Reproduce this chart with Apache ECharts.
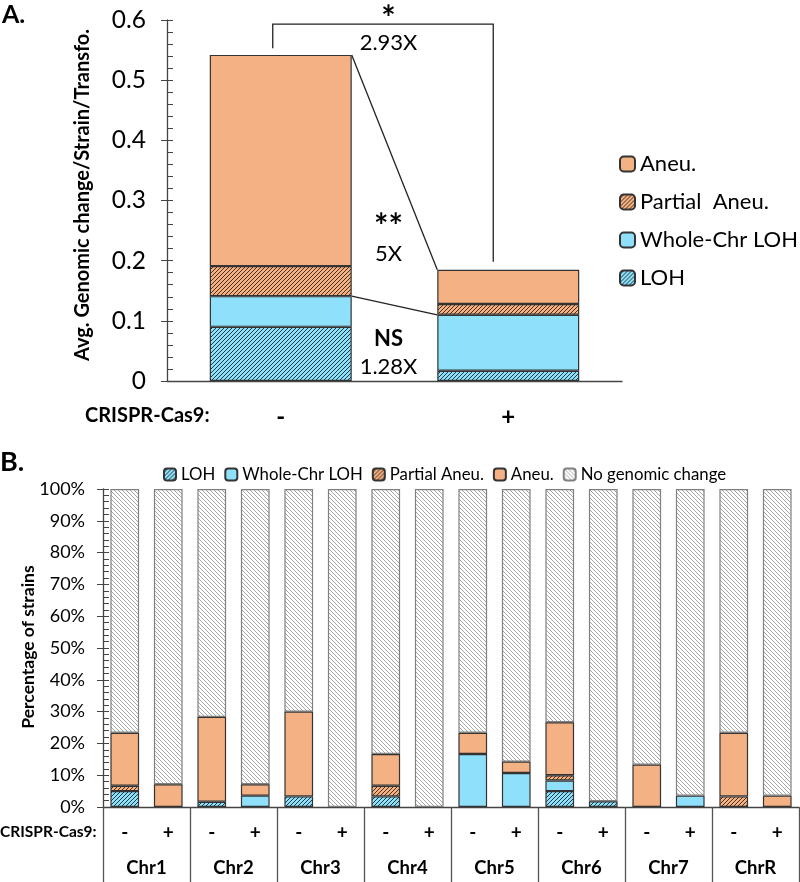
<!DOCTYPE html>
<html><head><meta charset="utf-8">
<script src="https://cdn.jsdelivr.net/npm/echarts@6/dist/echarts.min.js"></script>
<style>html,body{margin:0;padding:0;background:#fff}#c{width:800px;height:882px}</style>
</head><body><div id="c"></div>
<script>
// ---------- Panel A data ----------
const categoriesA = ['-', '+'];
const lohA      = [0.090, 0.017];
const wholeChrA = [0.051, 0.093];
const partialA  = [0.050, 0.018];
const aneuA     = [0.351, 0.057];
const ticksA    = [0, 0.1, 0.2, 0.3, 0.4, 0.5, 0.6];

// ---------- Panel B data ----------
const chrNames = ['Chr1', 'Chr2', 'Chr3', 'Chr4', 'Chr5', 'Chr6', 'Chr7', 'ChrR'];
const signs = ['-', '+'];
const lohB      = [5.00, 0, 1.67, 0, 3.33, 0, 3.33, 0, 0, 0, 5.00, 1.79, 0, 0, 0, 0];
const wholeChrB = [0, 0, 0, 3.57, 0, 0, 0, 0, 16.67, 10.71, 3.33, 0, 0, 3.57, 0, 0];
const partialB  = [1.67, 0, 0, 0, 0, 0, 3.33, 0, 0, 0, 1.67, 0, 0, 0, 3.33, 0];
const aneuB     = [16.67, 7.14, 26.67, 3.57, 26.67, 0, 10.00, 0, 6.67, 3.57, 16.67, 0, 13.33, 0, 20.00, 3.57];
const noChangeB = [76.66, 92.86, 71.66, 92.86, 70.00, 100, 83.34, 100, 76.66, 85.72, 73.33, 98.21, 86.67, 96.43, 76.67, 96.43];
const ticksB    = [0, 10, 20, 30, 40, 50, 60, 70, 80, 90, 100];

const categoriesB = [];
chrNames.forEach(c => signs.forEach(s => categoriesB.push(c + s)));

const FONT = 'Lato';
const ORANGE = '#F4B183';
const CYAN = '#8FE1FB';
const EDGE = '#333333';
const AX = '#444444';

function hatch(bg, fg, dir, size, lw) {
  const c = document.createElement('canvas');
  c.width = c.height = size;
  const g = c.getContext('2d');
  g.fillStyle = bg; g.fillRect(0, 0, size, size);
  g.strokeStyle = fg; g.lineWidth = lw;
  g.beginPath();
  for (const k of [-size, 0, size]) {
    if (dir === '/') { g.moveTo(k, size); g.lineTo(k + size, 0); }
    else { g.moveTo(k, 0); g.lineTo(k + size, size); }
  }
  g.stroke();
  return { image: c, repeat: 'repeat' };
}
const lohFill = hatch(CYAN, '#203a44', '/', 4, 1);
const partialFill = hatch(ORANGE, '#4a3018', '/', 4, 1);
const noneFill = hatch('#ffffff', '#a6a6a6', '\\', 4, 1);

const nz = arr => arr.map(v => v === 0 ? '-' : v);

function barSeries(name, data, fill, xi, yi, width, border, z) {
  return {
    name, type: 'bar', stack: 's' + xi, data: nz(data),
    xAxisIndex: xi, yAxisIndex: yi, barWidth: width, z: z || 2,
    itemStyle: { color: fill, borderColor: border || EDGE, borderWidth: 1.2 },
    emphasis: { disabled: true }
  };
}

const chart = echarts.init(document.getElementById('c'), null, { renderer: 'canvas' });

function yAxisPair(grid, min, max, interval, fmt, fontSize, margin) {
  return [
    { gridIndex: grid, type: 'value', position: 'left', min, max, interval,
      axisLine: { show: true, lineStyle: { color: AX, width: 1.3 } },
      axisTick: { show: true, inside: true, length: 6, lineStyle: { color: AX } },
      minorTick: { show: true, splitNumber: 5, length: 6, lineStyle: { color: AX } },
      splitLine: { show: false },
      axisLabel: { fontSize, color: '#000', margin, fontFamily: FONT, formatter: fmt } },
    { gridIndex: grid, type: 'value', position: 'left', min, max, interval,
      axisLine: { show: false },
      axisTick: { show: true, inside: false, length: 6, lineStyle: { color: AX } },
      splitLine: { show: false }, axisLabel: { show: false } }
  ];
}

const yA = yAxisPair(0, ticksA[0], ticksA[ticksA.length - 1], ticksA[1] - ticksA[0], v => String(+v.toFixed(1)), 24.5, 21);
const yB = yAxisPair(1, ticksB[0], ticksB[ticksB.length - 1], ticksB[1] - ticksB[0], v => v + '%', 18, 18);

const option = {
  animation: false,
  textStyle: { fontFamily: FONT, color: '#000' },
  grid: [
    { left: 167, top: 20, width: 455, height: 361 },
    { left: 103, top: 489, width: 696, height: 318 }
  ],
  legend: [
    { orient: 'vertical', left: 614, top: 148, itemWidth: 15, itemHeight: 15, itemGap: 16,
      data: ['Aneu.', 'Partial  Aneu.', 'Whole-Chr LOH', 'LOH'],
      textStyle: { fontSize: 22, color: '#000', fontFamily: FONT }, selectedMode: false },
    { orient: 'horizontal', left: 158, top: 461, itemWidth: 12, itemHeight: 12, itemGap: 9,
      data: ['LOH', 'Whole-Chr LOH', 'Partial Aneu.', 'Aneu.', 'No genomic change'],
      textStyle: { fontSize: 16.8, color: '#000', fontFamily: FONT }, selectedMode: false }
  ],
  xAxis: [
    { gridIndex: 0, type: 'category', data: categoriesA,
      axisLine: { show: true, lineStyle: { color: AX, width: 1.3 } },
      axisTick: { show: false },
      axisLabel: { fontSize: 24, fontWeight: 'bold', color: '#000', margin: 24, fontFamily: FONT } },
    { gridIndex: 1, type: 'category', data: categoriesB, position: 'bottom',
      axisLine: { show: true, lineStyle: { color: AX, width: 1.3 } },
      axisTick: { show: false },
      axisLabel: { interval: 0, fontSize: 19, fontWeight: 'bold', color: '#000', margin: 16, fontFamily: FONT,
        formatter: v => v.slice(-1) } },
    { gridIndex: 1, type: 'category', data: chrNames, position: 'bottom',
      axisLine: { show: false },
      axisTick: { show: true, interval: 0, length: 80, lineStyle: { color: '#555', width: 1.3 } },
      axisLabel: { interval: 0, fontSize: 18.5, fontWeight: 'bold', color: '#000', margin: 52, fontFamily: FONT } }
  ],
  yAxis: [yA[0], yA[1], yB[0], yB[1]],
  series: [
    barSeries('LOH', lohA, lohFill, 0, 0, '62.4%'),
    barSeries('Whole-Chr LOH', wholeChrA, CYAN, 0, 0, '62.4%'),
    barSeries('Partial  Aneu.', partialA, partialFill, 0, 0, '62.4%'),
    barSeries('Aneu.', aneuA, ORANGE, 0, 0, '62.4%'),
    barSeries('LOH', lohB, lohFill, 1, 2, '66%'),
    barSeries('Whole-Chr LOH', wholeChrB, CYAN, 1, 2, '66%'),
    barSeries('Partial Aneu.', partialB, partialFill, 1, 2, '66%'),
    barSeries('Aneu.', aneuB, ORANGE, 1, 2, '66%'),
    barSeries('No genomic change', noChangeB, noneFill, 1, 2, '66%', '#808080', 1)
  ]
};
chart.setOption(option);

// ---------- Annotations (computed from the axes) ----------
const P = (cat, v) => chart.convertToPixel({ xAxisIndex: 0, yAxisIndex: 0 }, [cat, v]);
const c0 = P('-', 0), c1 = P('+', 0);
const band = c1[0] - c0[0];
const half = band * 0.624 / 2;
const topMinus = lohA[0] + wholeChrA[0] + partialA[0] + aneuA[0];
const topPlus = lohA[1] + wholeChrA[1] + partialA[1] + aneuA[1];
const lohTotMinus = lohA[0] + wholeChrA[0];
const lohTotPlus = lohA[1] + wholeChrA[1];
const yPx = v => P('-', v)[1];
const midX = (c0[0] + c1[0]) / 2 - 6;
const bx1 = c0[0] - 8, bx2 = c1[0] - 15;
const lineStyle = { stroke: '#222', lineWidth: 1.3, fill: null };

function txt(x, y, text, size, bold, align, rotation) {
  return {
    type: 'text', x, y, silent: true, rotation: rotation || 0,
    style: { text, fontSize: size, fontWeight: bold ? 'bold' : 'normal', fontFamily: FONT,
      fill: '#000', align: align || 'center', verticalAlign: 'middle' }
  };
}

const graphics = [
  { type: 'polyline', silent: true, shape: { points: [[bx1, yPx(0.553)], [bx1, yPx(0.593)], [bx2, yPx(0.593)], [bx2, yPx(0.198)]] }, style: lineStyle },
  { type: 'line', silent: true, shape: { x1: c0[0] + half, y1: yPx(topMinus), x2: c1[0] - half, y2: yPx(topPlus) }, style: lineStyle },
  { type: 'line', silent: true, shape: { x1: c0[0] + half, y1: yPx(lohTotMinus), x2: c1[0] - half, y2: yPx(lohTotPlus) }, style: lineStyle },
  txt(midX, yPx(0.617) + 9, '*', 34, true),
  txt(midX, yPx(0.562), '2.93X', 22, false),
  txt(midX, yPx(0.271) + 9, '**', 34, true),
  txt(midX, yPx(0.211), '5X', 22, false),
  txt(midX, yPx(0.0698), 'NS', 22, true),
  txt(midX, yPx(0.0233), '1.28X', 22, false),
  txt(2, 15, 'A.', 25, true, 'left'),
  txt(0, 462, 'B.', 27, true, 'left'),
  txt(85, 416, 'CRISPR-Cas9:', 20, true, 'left'),
  txt(0, 832, 'CRISPR-Cas9:', 15.5, true, 'left'),
  txt(83, 195, 'Avg. Genomic change/Strain/Transfo.', 20, true, 'center', Math.PI / 2),
  txt(28, 647, 'Percentage of strains', 17.5, true, 'center', Math.PI / 2)
];
chart.setOption({ graphic: graphics });
</script></body></html>
